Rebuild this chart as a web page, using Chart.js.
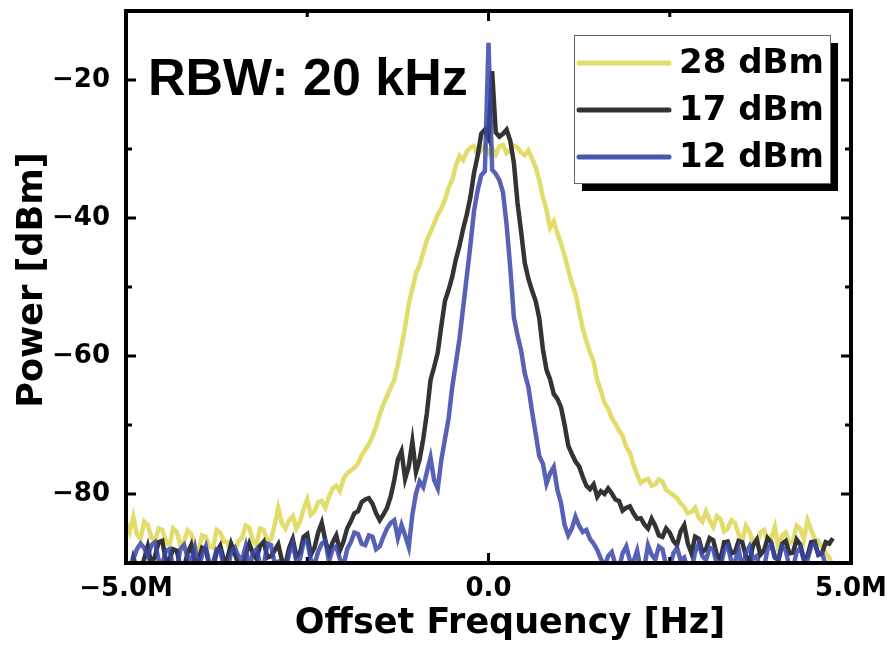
<!DOCTYPE html>
<html>
<head>
<meta charset="utf-8">
<script src="https://cdn.jsdelivr.net/npm/chart.js@4.4.0/dist/chart.umd.min.js"></script>
<style>
    html, body { margin: 0; padding: 0; background: #fff; }
</style>
</head>
<body>
<canvas id="myChart" width="895" height="646"></canvas>
<script>
// offset frequency in MHz
const freqMHz = [
    -5.0, -4.95, -4.9, -4.85, -4.8, -4.75, -4.7, -4.65, -4.6, -4.55,
    -4.5, -4.45, -4.4, -4.35, -4.3, -4.25, -4.2, -4.15, -4.1, -4.05,
    -4.0, -3.95, -3.9, -3.85, -3.8, -3.75, -3.7, -3.65, -3.6, -3.55,
    -3.5, -3.45, -3.4, -3.35, -3.3, -3.25, -3.2, -3.15, -3.1, -3.05,
    -3.0, -2.95, -2.9, -2.85, -2.8, -2.75, -2.7, -2.65, -2.6, -2.55,
    -2.5, -2.45, -2.4, -2.35, -2.3, -2.25, -2.2, -2.15, -2.1, -2.05,
    -2.0, -1.95, -1.9, -1.85, -1.8, -1.75, -1.7, -1.65, -1.6, -1.55,
    -1.5, -1.45, -1.4, -1.35, -1.3, -1.25, -1.2, -1.15, -1.1, -1.05,
    -1.0, -0.95, -0.9, -0.85, -0.8, -0.75, -0.7, -0.65, -0.6, -0.55,
    -0.5, -0.45, -0.4, -0.35, -0.3, -0.25, -0.2, -0.15, -0.1, -0.05,
    0.0, 0.05, 0.1, 0.15, 0.2, 0.25, 0.3, 0.35, 0.4, 0.45,
    0.5, 0.55, 0.6, 0.65, 0.7, 0.75, 0.8, 0.85, 0.9, 0.95,
    1.0, 1.05, 1.1, 1.15, 1.2, 1.25, 1.3, 1.35, 1.4, 1.45,
    1.5, 1.55, 1.6, 1.65, 1.7, 1.75, 1.8, 1.85, 1.9, 1.95,
    2.0, 2.05, 2.1, 2.15, 2.2, 2.25, 2.3, 2.35, 2.4, 2.45,
    2.5, 2.55, 2.6, 2.65, 2.7, 2.75, 2.8, 2.85, 2.9, 2.95,
    3.0, 3.05, 3.1, 3.15, 3.2, 3.25, 3.3, 3.35, 3.4, 3.45,
    3.5, 3.55, 3.6, 3.65, 3.7, 3.75, 3.8, 3.85, 3.9, 3.95,
    4.0, 4.05, 4.1, 4.15, 4.2, 4.25, 4.3, 4.35, 4.4, 4.45,
    4.5, 4.55, 4.6, 4.65, 4.7, 4.75
];
// power [dBm]
const p28 = [
    -84.2, -85.5, -83.3, -85.8, -86.5, -84.0, -84.5, -86.3, -86.8, -85.0,
    -85.2, -86.8, -87.5, -85.0, -85.5, -87.4, -86.9, -85.3, -85.8, -87.9,
    -88.4, -86.0, -86.2, -87.6, -87.8, -85.2, -85.6, -86.9, -87.0, -88.7,
    -88.6, -86.8, -86.4, -84.6, -84.9, -86.8, -87.3, -85.0, -85.2, -86.9,
    -86.6, -84.5, -82.0, -84.2, -85.0, -83.8, -83.2, -85.0, -84.0, -82.2,
    -80.8, -83.0, -82.5, -81.2, -81.0, -82.0, -80.4, -79.2, -78.8, -79.6,
    -77.8, -77.0, -76.6, -76.2, -75.6, -74.4, -73.6, -72.8, -71.6, -70.2,
    -68.5, -67.0, -65.8, -64.6, -63.5, -61.2, -58.6, -55.8, -52.5, -50.2,
    -48.0, -46.8, -45.0, -43.2, -42.0, -40.8, -39.5, -38.6, -37.3, -35.6,
    -34.5, -32.4, -31.0, -31.6, -30.4, -29.8, -29.6, -30.8, -30.2, -29.4,
    -30.6, -29.8, -30.8, -29.6, -29.4, -30.6, -30.2, -29.5, -29.8, -30.5,
    -30.9, -30.2, -31.4, -32.6, -34.5, -37.0, -38.8, -41.4, -40.5, -42.2,
    -43.7, -45.5, -47.5, -49.4, -51.0, -53.5, -56.0, -57.8, -59.5, -60.8,
    -63.5, -65.0, -66.8, -67.6, -69.0, -69.8, -70.8, -71.6, -73.2, -74.0,
    -75.8, -77.2, -78.4, -78.0, -77.8, -78.8, -78.6, -77.9, -78.2, -79.4,
    -79.8, -80.2, -80.6, -81.4, -81.9, -82.8, -82.6, -82.0, -83.4, -84.0,
    -82.5, -83.8, -84.8, -83.2, -83.6, -85.4, -85.0, -83.8, -84.2, -85.8,
    -86.7, -84.6, -85.5, -87.0, -87.4, -85.6, -85.2, -86.8, -86.4, -84.8,
    -88.2, -86.0, -85.6, -87.2, -86.8, -84.6, -85.0, -86.6, -83.8, -85.2,
    -86.5, -86.8, -87.7, -88.6, -89.2, -90.5
];
const p17 = [
    -90.5, -91.5, -89.2, -90.8, -91.0, -89.4, -87.6, -90.2, -89.0, -87.0,
    -86.8, -89.6, -89.5, -88.0, -88.2, -90.5, -90.6, -88.6, -87.4, -89.8,
    -89.6, -87.8, -88.0, -90.4, -90.8, -88.4, -87.5, -89.6, -89.3, -87.2,
    -88.6, -90.2, -91.0, -88.8, -87.2, -88.6, -89.4, -87.5, -86.9, -89.2,
    -89.0, -88.2, -87.3, -89.6, -90.2, -87.8, -86.5, -89.0, -88.5, -86.2,
    -85.8, -88.8, -87.8, -85.6, -84.2, -86.8, -88.5, -87.0, -86.0, -88.2,
    -86.9, -85.0, -84.0, -82.8, -82.5, -81.2, -80.8, -80.6, -81.4, -82.8,
    -83.8, -83.0, -82.0, -80.4, -78.0, -75.0, -73.8, -77.8, -76.0, -72.4,
    -76.8, -75.0, -72.0, -68.3, -63.5, -61.6, -59.5, -55.6, -52.0, -50.4,
    -48.5, -46.0, -44.0, -41.6, -39.5, -37.0, -33.5, -31.0, -27.8, -27.2,
    -28.4, -18.7, -27.6, -28.2, -27.8, -27.2, -28.8, -32.0, -37.8, -42.0,
    -46.5, -48.8, -50.5, -52.0, -54.5, -59.0, -62.0, -63.4, -65.5, -66.2,
    -67.4, -70.0, -73.0, -74.2, -75.3, -76.0, -77.5, -78.8, -79.3, -78.6,
    -80.4, -79.6, -80.0, -79.2, -79.9, -80.8, -81.0, -82.4, -82.0, -81.8,
    -82.8, -83.6, -83.5, -84.4, -85.0, -83.6, -84.6, -86.0, -86.2, -85.0,
    -85.6, -86.8, -87.4, -85.4, -84.5, -87.2, -88.6, -86.2, -86.5, -88.4,
    -88.0, -86.4, -86.7, -88.8, -89.5, -87.0, -86.9, -88.6, -88.4, -86.8,
    -87.0, -89.0, -89.8, -87.4, -86.6, -88.8, -88.2, -86.4, -87.0, -89.2,
    -89.6, -87.2, -86.8, -88.6, -88.5, -86.6, -87.3, -89.4, -89.0, -87.0,
    -86.9, -88.8, -88.6, -87.0, -87.2, -86.4
];
const p12 = [
    -91.0, -92.0, -89.5, -88.0, -87.2, -87.8, -89.0, -87.4, -87.0, -89.6,
    -90.2, -88.2, -88.0, -90.6, -90.8, -88.0, -87.4, -89.2, -89.6, -87.8,
    -91.0, -88.8, -87.6, -90.2, -90.0, -88.0, -88.2, -90.6, -91.0, -88.4,
    -87.8, -89.0, -89.6, -87.6, -90.8, -88.6, -88.0, -90.2, -90.4, -87.2,
    -87.4, -90.0, -89.8, -91.0, -91.0, -88.6, -87.2, -89.8, -89.4, -87.0,
    -86.8, -89.6, -90.2, -88.4, -87.2, -86.8, -89.8, -88.0, -87.6, -89.4,
    -90.4, -88.0, -87.0, -85.6, -85.8, -87.2, -87.4, -86.0, -86.2, -88.0,
    -87.6, -86.2, -85.0, -84.2, -83.8, -86.4, -84.5, -86.0, -87.7, -83.0,
    -79.9, -78.2, -79.0, -76.8, -74.7, -78.0, -79.2, -75.0, -72.0, -69.0,
    -64.5, -61.0, -57.5, -53.0, -48.5, -44.0, -39.0, -36.0, -33.8, -33.2,
    -14.6, -33.0, -33.6, -34.5, -36.3, -41.0, -47.2, -54.4, -57.0, -59.2,
    -62.5, -64.5, -68.0, -71.2, -74.5, -75.6, -78.5, -77.0, -76.1, -79.4,
    -81.3, -84.5, -86.0, -85.0, -83.3, -84.6, -85.5, -85.2, -86.5, -87.2,
    -88.1, -89.4, -90.5, -89.0, -88.4, -90.2, -90.8, -88.6, -87.6, -89.6,
    -89.8, -88.2, -91.0, -90.6, -87.4, -88.8, -89.5, -87.6, -88.0, -90.4,
    -90.6, -88.6, -87.8, -89.6, -89.2, -91.0, -91.0, -88.4, -87.2, -89.0,
    -89.6, -87.8, -88.0, -90.2, -90.5, -88.2, -87.5, -89.8, -89.8, -88.0,
    -91.0, -88.6, -87.6, -89.4, -89.0, -90.8, -90.6, -88.0, -87.3, -89.2,
    -89.4, -87.6, -88.2, -90.6, -90.8, -88.4, -87.8, -89.6, -89.5, -87.6,
    -87.2, -88.8, -88.6, -90.2, -90.5, -91.0
];
const seriesLabels = ['28 dBm', '17 dBm', '12 dBm'];
const xTicks = [-5, 0, 5];
const xTickLabels = ['\u22125.0M', '0.0', '5.0M'];
const xMinor = [-2.5, 2.5];
const yTicks = [-80, -60, -40, -20];
const yTickLabels = ['\u221280', '\u221260', '\u221240', '\u221220'];
const yMinor = [-70, -50, -30];
const xTitle = 'Offset Frequency [Hz]';
const yTitle = 'Power [dBm]';
const noteText = 'RBW: 20 kHz';

const colors = ['#e2dc6a', '#333333', 'rgba(58,70,170,0.85)'];
const legendColors = ['#e2dc6a', '#333333', '#4a55b0'];

function toPoints(arr) {
    return freqMHz.map((f, i) => ({ x: f, y: arr[i] }));
}

// frame with inward ticks on all four sides
const framePlugin = {
    id: 'frame',
    afterDatasetsDraw(chart) {
        const { ctx, chartArea: a, scales: { x, y } } = chart;
        ctx.save();
        ctx.strokeStyle = '#000';
        ctx.lineWidth = 3;
        ctx.beginPath();
        const yt = (v, len) => {
            const py = y.getPixelForValue(v);
            ctx.moveTo(a.left, py); ctx.lineTo(a.left + len, py);
            ctx.moveTo(a.right, py); ctx.lineTo(a.right - len, py);
        };
        const xt = (v, len) => {
            const px = x.getPixelForValue(v);
            ctx.moveTo(px, a.bottom); ctx.lineTo(px, a.bottom - len);
            ctx.moveTo(px, a.top); ctx.lineTo(px, a.top + len);
        };
        yTicks.forEach(v => yt(v, 10));
        yMinor.forEach(v => yt(v, 6));
        xTicks.forEach(v => xt(v, 10));
        xMinor.forEach(v => xt(v, 6));
        ctx.stroke();
        ctx.lineWidth = 4;
        ctx.strokeRect(a.left, a.top, a.right - a.left, a.bottom - a.top);
        ctx.restore();
    }
};

// axis titles, legend box with shadow, RBW note
const textPlugin = {
    id: 'texts',
    afterDraw(chart) {
        const { ctx, chartArea: a } = chart;
        ctx.save();
        ctx.fillStyle = '#000';

        ctx.font = 'bold 35px "DejaVu Sans", sans-serif';
        ctx.textAlign = 'center';
        ctx.textBaseline = 'alphabetic';
        ctx.fillText(xTitle, 510, 633);
        ctx.save();
        ctx.translate(42, 280);
        ctx.rotate(-Math.PI / 2);
        ctx.fillText(yTitle, 0, 0);
        ctx.restore();

        ctx.textAlign = 'left';
        ctx.font = 'bold 52px "Liberation Sans", Arial, sans-serif';
        ctx.fillText(noteText, a.left + 22, a.top + 84);

        const bx = a.right - 277, by = a.top + 24, bw = 256, bh = 148;
        ctx.fillStyle = '#000';
        ctx.fillRect(bx + 8, by + 8, bw, bh);
        ctx.fillStyle = '#fff';
        ctx.fillRect(bx, by, bw, bh);
        ctx.strokeStyle = '#666';
        ctx.lineWidth = 1;
        ctx.strokeRect(bx + 0.5, by + 0.5, bw, bh);
        ctx.font = 'bold 34px "DejaVu Sans", sans-serif';
        ctx.textBaseline = 'middle';
        chart.data.datasets.forEach((ds, i) => {
            const ly = by + 28 + i * 47;
            ctx.strokeStyle = legendColors[i];
            ctx.lineWidth = 5;
            ctx.lineCap = 'round';
            ctx.beginPath();
            ctx.moveTo(bx + 5, ly);
            ctx.lineTo(bx + 95, ly);
            ctx.stroke();
            ctx.fillStyle = '#000';
            ctx.fillText(ds.label, bx + 105, ly + 1);
        });
        ctx.restore();
    }
};

const tickFont = { family: '"DejaVu Sans", sans-serif', size: 26, weight: 'bold' };

const ctx = document.getElementById('myChart').getContext('2d');
const chart = new Chart(ctx, {
    type: 'line',
    data: {
        datasets: [p28, p17, p12].map((arr, i) => ({
            label: seriesLabels[i],
            data: toPoints(arr),
            borderColor: colors[i],
            borderWidth: 4.5,
            pointRadius: 0,
            tension: 0,
            fill: false,
            clip: 0,
            order: 2 - i
        }))
    },
    options: {
        responsive: false,
        animation: false,
        events: [],
        layout: { padding: { left: 0, right: 44, top: 11, bottom: 0 } },
        plugins: {
            legend: { display: false },
            tooltip: { enabled: false }
        },
        scales: {
            x: {
                type: 'linear',
                min: -5,
                max: 5,
                afterBuildTicks: s => { s.ticks = xTicks.map(v => ({ value: v })); },
                afterFit: s => { s.height = 83; s.paddingLeft = 0; s.paddingRight = 0; },
                grid: { display: false, drawTicks: false },
                border: { display: false },
                ticks: {
                    color: '#000',
                    font: tickFont,
                    padding: 11,
                    maxRotation: 0,
                    autoSkip: false,
                    callback: (v, i) => xTickLabels[i]
                }
            },
            y: {
                min: -90,
                max: -10,
                afterBuildTicks: s => { s.ticks = yTicks.map(v => ({ value: v })); },
                afterFit: s => { s.width = 126; s.paddingTop = 0; s.paddingBottom = 0; },
                grid: { display: false, drawTicks: false },
                border: { display: false },
                ticks: {
                    color: '#000',
                    font: tickFont,
                    padding: 16,
                    autoSkip: false,
                    callback: (v, i) => yTickLabels[i]
                }
            }
        }
    },
    plugins: [framePlugin, textPlugin]
});
</script>
</body>
</html>
